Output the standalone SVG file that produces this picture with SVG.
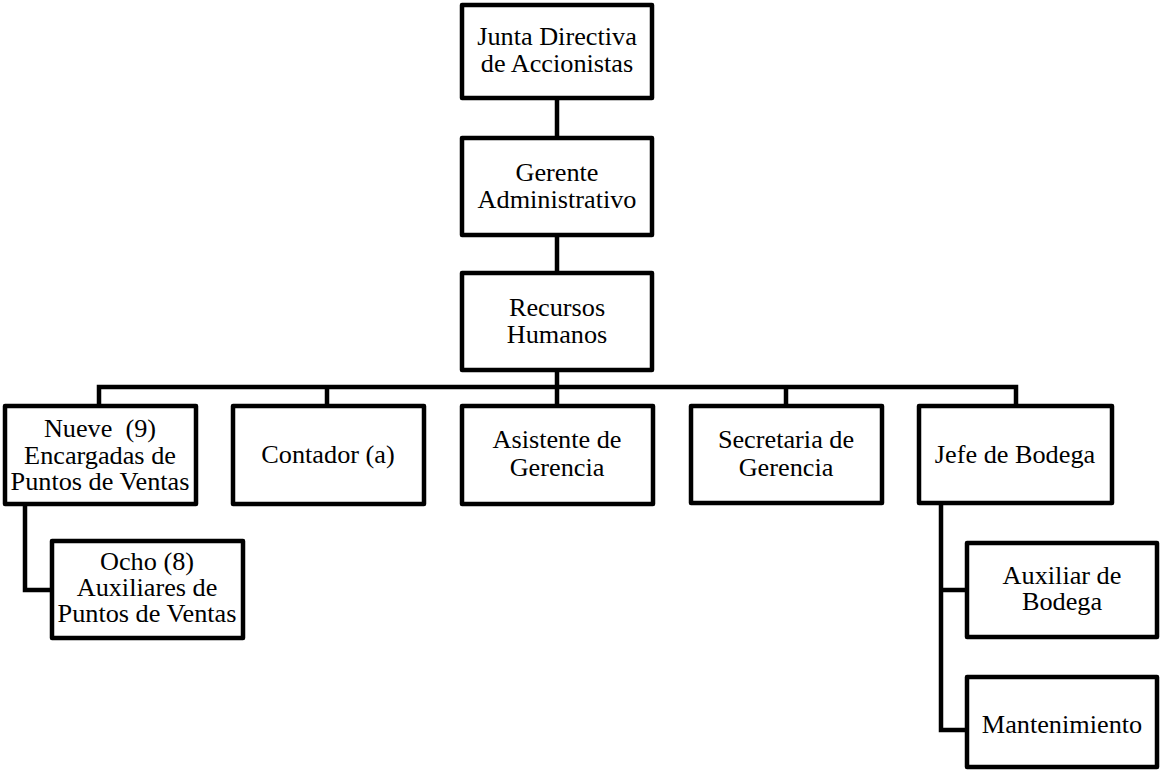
<svg xmlns="http://www.w3.org/2000/svg" width="1160" height="771" viewBox="0 0 1160 771">
<style>
.box{fill:#fff;stroke:#000;stroke-width:4.5;stroke-linejoin:round}
.ln{fill:none;stroke:#000;stroke-width:4.5}
text{font-family:"Liberation Serif","Times New Roman",serif;font-size:25px;fill:#000;text-anchor:middle}
</style>
<rect width="1160" height="771" fill="#fff"/>
<g id="connectors">
<path class="ln" d="M557 98V136M557 235V271M557 370V406"/>
<path class="ln" d="M99 406V387H1016V406M327 387V406M786 387V406"/>
<path class="ln" d="M25 504V590H52"/>
<path class="ln" d="M941 503V730H967M941 590H967"/>
</g>
<g id="junta"><rect class="box" x="462" y="5" width="190" height="93"/>
<text transform="translate(557,45) scale(1.05,1)"><tspan x="0" y="0">Junta Directiva</tspan><tspan x="0" y="27">de Accionistas</tspan></text></g>
<g id="gerente"><rect class="box" x="462" y="138" width="190" height="97"/>
<text transform="translate(557,181) scale(1.05,1)"><tspan x="0" y="0">Gerente</tspan><tspan x="0" y="27">Administrativo</tspan></text></g>
<g id="rrhh"><rect class="box" x="462" y="273" width="190" height="97"/>
<text transform="translate(557,316) scale(1.05,1)"><tspan x="0" y="0">Recursos</tspan><tspan x="0" y="27">Humanos</tspan></text></g>
<g id="nueve"><rect class="box" x="5" y="406" width="191" height="98"/>
<text transform="translate(100,437) scale(1.05,1)"><tspan x="0" y="0">Nueve &#160;(9)</tspan><tspan x="0" y="27">Encargadas de</tspan><tspan x="0" y="53">Puntos de Ventas</tspan></text></g>
<g id="ocho"><rect class="box" x="52" y="541" width="191" height="97"/>
<text transform="translate(147,570) scale(1.05,1)"><tspan x="0" y="0">Ocho (8)</tspan><tspan x="0" y="26">Auxiliares de</tspan><tspan x="0" y="52">Puntos de Ventas</tspan></text></g>
<g id="contador"><rect class="box" x="233" y="406" width="191" height="98"/>
<text transform="translate(328,463) scale(1.05,1)">Contador (a)</text></g>
<g id="asistente"><rect class="box" x="462" y="406" width="191" height="98"/>
<text transform="translate(557,448) scale(1.05,1)"><tspan x="0" y="0">Asistente de</tspan><tspan x="0" y="28">Gerencia</tspan></text></g>
<g id="secretaria"><rect class="box" x="691" y="406" width="191" height="97"/>
<text transform="translate(786,448) scale(1.05,1)"><tspan x="0" y="0">Secretaria de</tspan><tspan x="0" y="28">Gerencia</tspan></text></g>
<g id="jefe"><rect class="box" x="919" y="406" width="193" height="97"/>
<text transform="translate(1015,463) scale(1.05,1)">Jefe de Bodega</text></g>
<g id="auxiliar"><rect class="box" x="967" y="543" width="190" height="94"/>
<text transform="translate(1062,584) scale(1.05,1)"><tspan x="0" y="0">Auxiliar de</tspan><tspan x="0" y="26">Bodega</tspan></text></g>
<g id="mant"><rect class="box" x="967" y="677" width="190" height="90"/>
<text transform="translate(1062,733) scale(1.05,1)">Mantenimiento</text></g>
</svg>
